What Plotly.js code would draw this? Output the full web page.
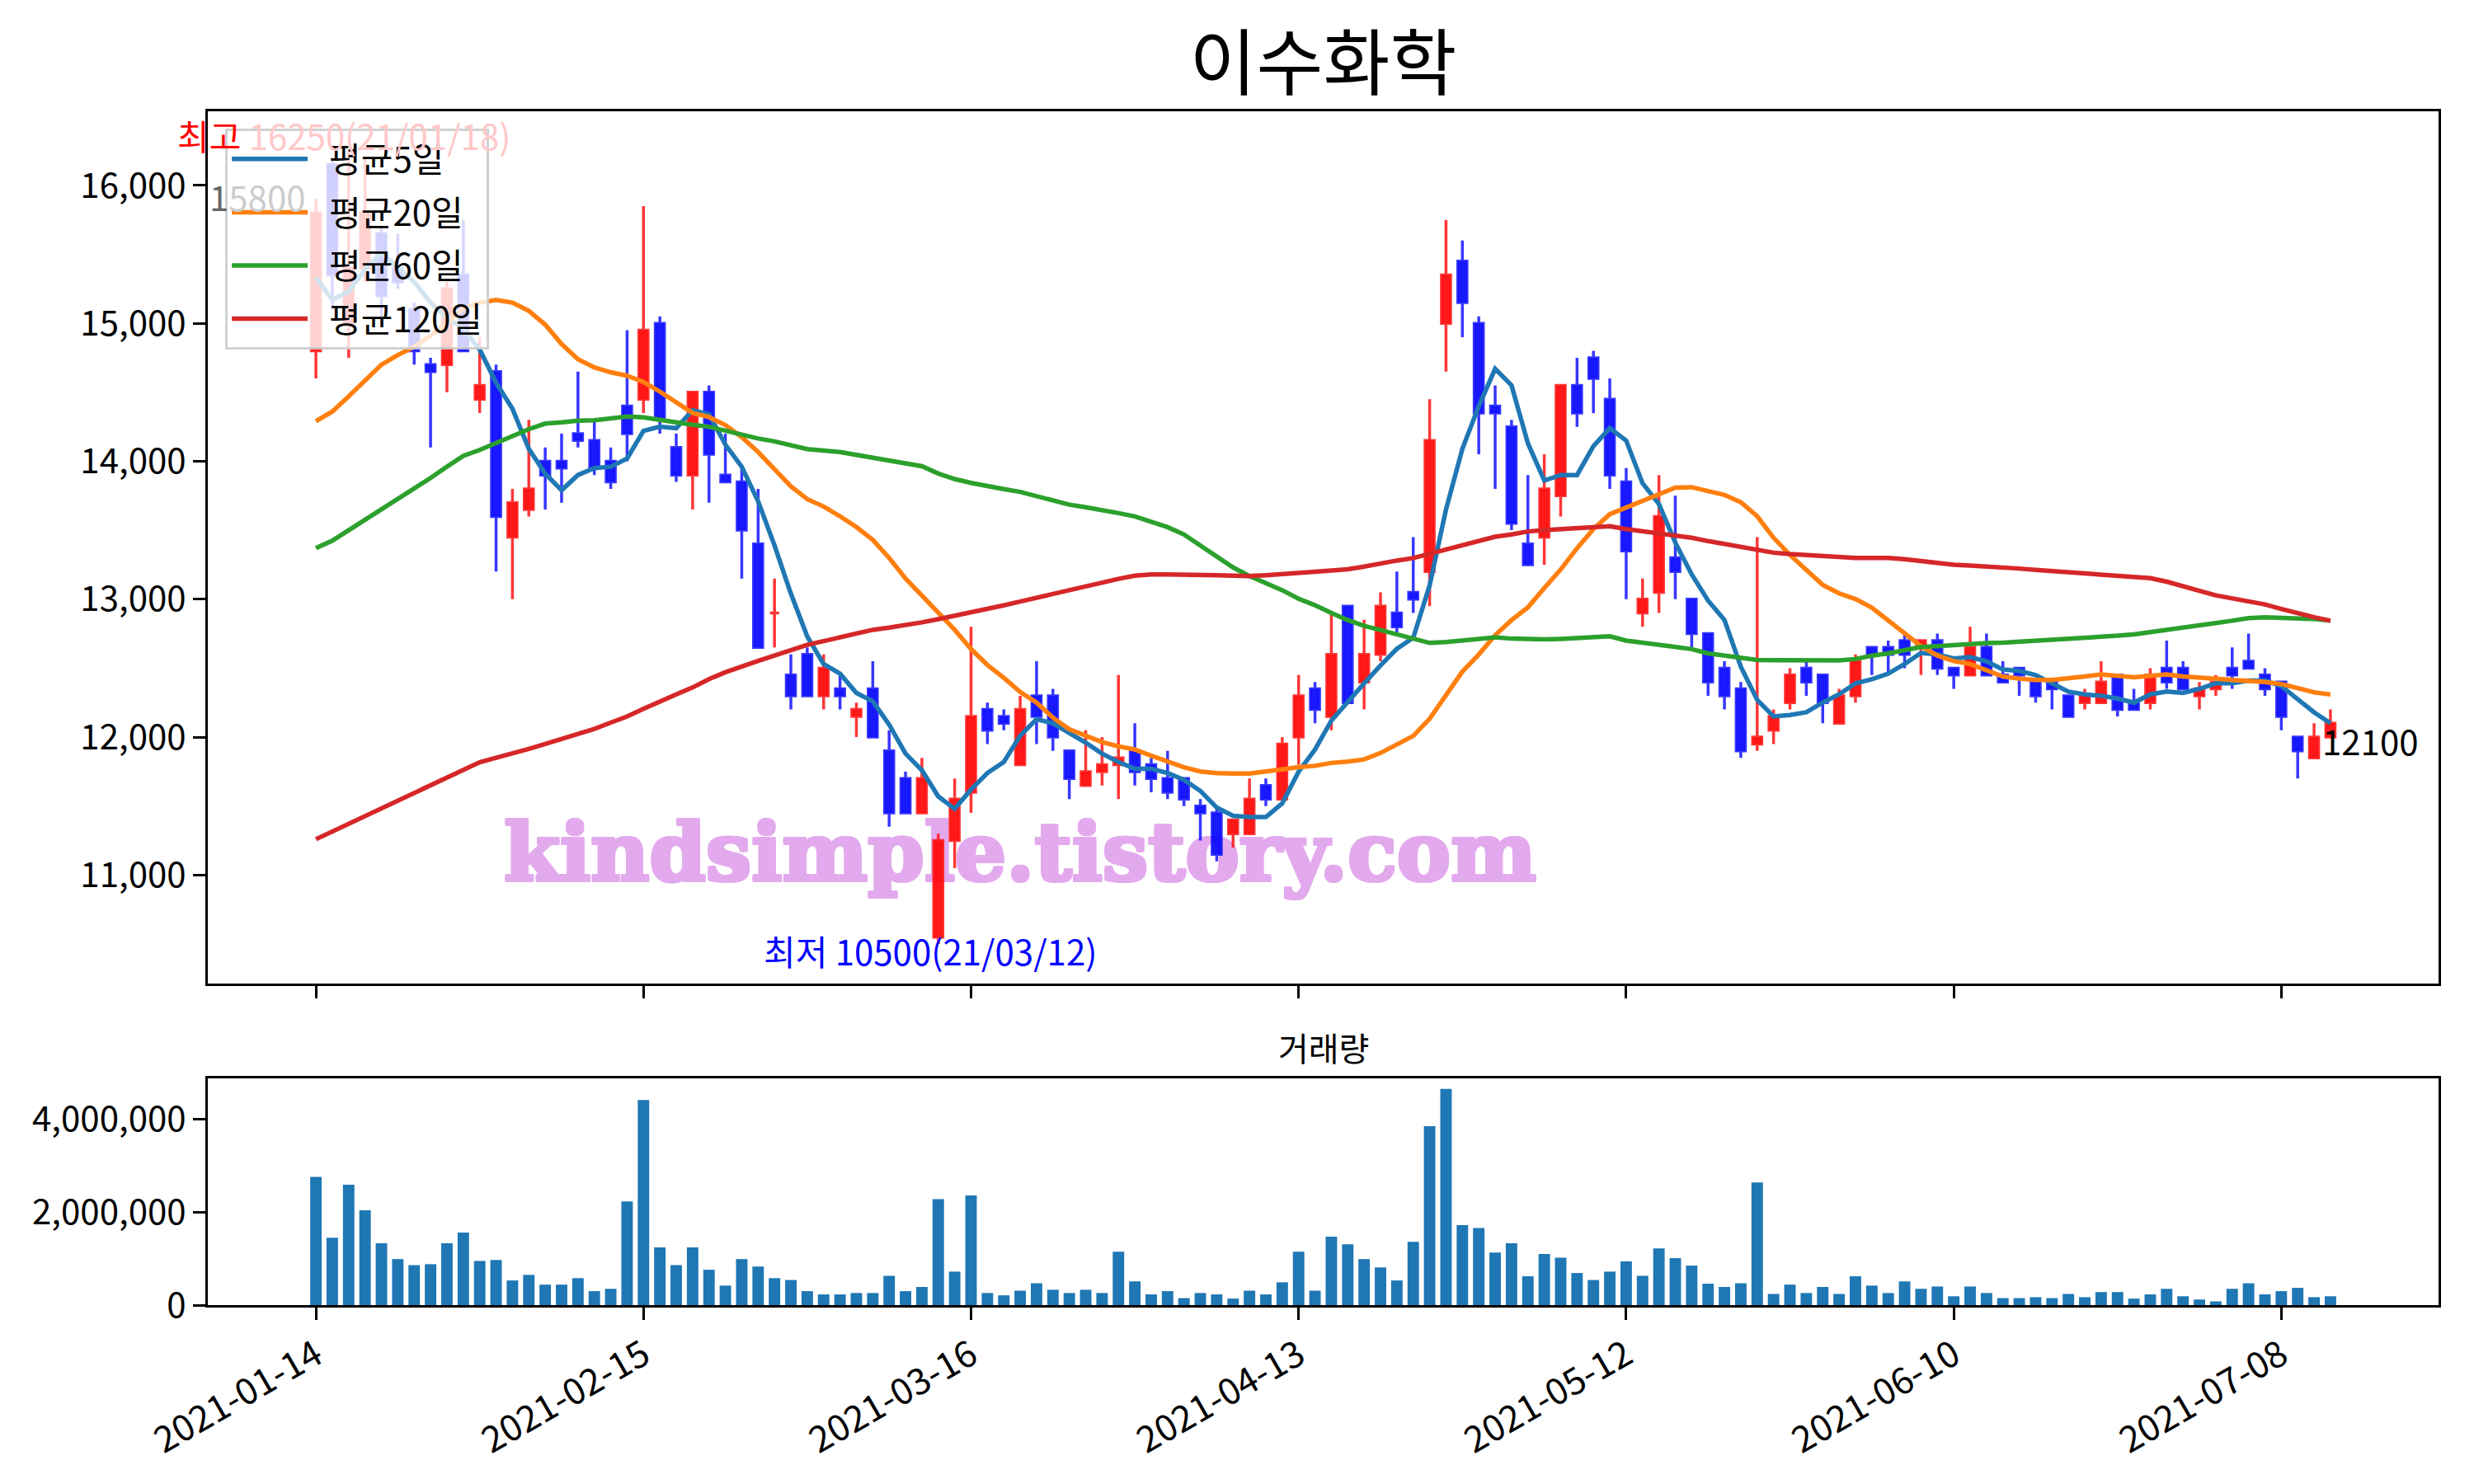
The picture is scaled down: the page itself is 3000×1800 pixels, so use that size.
<!DOCTYPE html>
<html>
<head>
<meta charset="utf-8">
<script src="https://cdn.plot.ly/plotly-3.0.1.min.js"></script>
<style>html,body{margin:0;padding:0;background:#fff;}</style>
</head>
<body>
<div id="chart" style="width:3000px;height:1800px;"></div>
<script>
const dates = ["2021-01-14","2021-01-15","2021-01-18","2021-01-19","2021-01-20","2021-01-21","2021-01-22","2021-01-25","2021-01-26","2021-01-27","2021-01-28","2021-01-29","2021-02-01","2021-02-02","2021-02-03","2021-02-04","2021-02-05","2021-02-08","2021-02-09","2021-02-10","2021-02-15","2021-02-16","2021-02-17","2021-02-18","2021-02-19","2021-02-22","2021-02-23","2021-02-24","2021-02-25","2021-02-26","2021-03-02","2021-03-03","2021-03-04","2021-03-05","2021-03-08","2021-03-09","2021-03-10","2021-03-11","2021-03-12","2021-03-15","2021-03-16","2021-03-17","2021-03-18","2021-03-19","2021-03-22","2021-03-23","2021-03-24","2021-03-25","2021-03-26","2021-03-29","2021-03-30","2021-03-31","2021-04-01","2021-04-02","2021-04-05","2021-04-06","2021-04-07","2021-04-08","2021-04-09","2021-04-12","2021-04-13","2021-04-14","2021-04-15","2021-04-16","2021-04-19","2021-04-20","2021-04-21","2021-04-22","2021-04-23","2021-04-26","2021-04-27","2021-04-28","2021-04-29","2021-04-30","2021-05-03","2021-05-04","2021-05-06","2021-05-07","2021-05-10","2021-05-11","2021-05-12","2021-05-13","2021-05-14","2021-05-17","2021-05-18","2021-05-20","2021-05-21","2021-05-24","2021-05-25","2021-05-26","2021-05-27","2021-05-28","2021-05-31","2021-06-01","2021-06-02","2021-06-03","2021-06-04","2021-06-07","2021-06-08","2021-06-09","2021-06-10","2021-06-11","2021-06-14","2021-06-15","2021-06-16","2021-06-17","2021-06-18","2021-06-21","2021-06-22","2021-06-23","2021-06-24","2021-06-25","2021-06-28","2021-06-29","2021-06-30","2021-07-01","2021-07-02","2021-07-05","2021-07-06","2021-07-07","2021-07-08","2021-07-09","2021-07-12","2021-07-13"];

const openP = [14800,16150,15000,15400,15650,15400,15100,14700,14700,15350,14450,14650,13450,13650,14000,14000,14200,14150,14000,14400,14450,15000,14100,13900,14500,13900,13850,13400,12900,12450,12600,12300,12350,12150,12350,11900,11700,11450,10550,11250,11600,12200,12150,11800,12300,12300,11900,11650,11750,11800,11900,11800,11700,11700,11500,11450,11300,11300,11650,11550,12000,12350,12150,12950,12400,12600,12900,13050,13200,15000,15450,15000,14400,14250,13400,13450,13750,14550,14750,14450,13850,12900,13050,13300,13000,12750,12500,12350,11950,12050,12250,12500,12450,12100,12300,12650,12650,12700,12650,12700,12500,12450,12650,12450,12500,12400,12400,12300,12250,12250,12450,12250,12250,12500,12500,12300,12350,12500,12550,12450,12400,12000,11850,12000];
const highP = [15900,16200,16250,16200,15700,15650,15150,14750,15300,15750,14900,14700,13800,14300,14100,14200,14650,14300,14100,14950,15850,15050,14200,14500,14550,14200,13950,13800,13150,12600,12650,12600,12450,12250,12550,12050,11750,11850,11300,11700,12800,12250,12200,12300,12550,12350,11900,12050,12000,12450,12100,11850,11900,11700,11550,11500,11400,11700,11700,12000,12450,12400,12900,12950,12850,13050,13200,13450,14450,15750,15600,15050,14550,14300,13900,14050,14550,14750,14800,14600,13950,13150,13900,13750,13000,12750,12550,12400,13450,12200,12500,12550,12450,12350,12600,12650,12700,12750,12700,12750,12500,12800,12750,12550,12500,12400,12400,12300,12350,12550,12450,12350,12500,12700,12550,12400,12450,12650,12750,12500,12400,12000,12100,12200];
const lowP = [14600,15100,14750,15300,15000,15250,14700,14100,14500,14800,14350,13200,13000,13600,13650,13700,14100,13900,13800,14000,14350,14200,13850,13650,13700,13850,13150,12650,12650,12200,12300,12200,12200,12000,12000,11350,11450,11450,10500,11050,11450,11950,12050,11800,11950,11900,11550,11650,11650,11550,11650,11600,11550,11500,11250,11100,11200,11300,11500,11550,11800,12100,12050,12250,12200,12550,12750,12900,12950,14650,14900,14050,13800,13500,13250,13250,13600,14250,14350,13800,13000,12800,12900,13000,12650,12300,12200,11850,11900,11950,12200,12300,12100,12100,12250,12450,12450,12500,12450,12450,12350,12450,12450,12400,12300,12250,12200,12150,12200,12250,12150,12200,12200,12350,12350,12200,12300,12350,12500,12300,12050,11700,11850,12000];
const closeP = [15800,15350,15400,15800,15200,15300,14800,14650,15250,14800,14550,13600,13700,13800,13900,13950,14150,13950,13850,14200,14950,14300,13900,14500,14050,13850,13500,12650,12900,12300,12300,12500,12300,12200,12000,11450,11450,11700,11250,11550,12150,12050,12100,12200,12150,12000,11700,11750,11800,11850,11750,11700,11600,11550,11450,11150,11400,11550,11550,11950,12300,12200,12600,12250,12600,12950,12800,13000,14150,15350,15150,14350,14350,13550,13250,13800,14550,14350,14600,13900,13350,13000,13600,13200,12750,12400,12300,11900,12000,12150,12450,12400,12250,12300,12550,12600,12600,12600,12700,12500,12450,12650,12450,12400,12450,12300,12350,12150,12300,12400,12200,12200,12450,12400,12350,12350,12400,12450,12500,12350,12150,11900,12000,12100];

const ma5 = [15330,15170,15230,15390,15510,15410,15300,15150,15040,14960,14810,14570,14380,14090,13910,13790,13900,13950,13960,14020,14220,14250,14240,14370,14340,14120,13960,13710,13390,13040,12730,12530,12460,12320,12260,12090,11880,11760,11570,11480,11620,11740,11820,12010,12130,12100,12030,11960,11880,11820,11770,11770,11740,11690,11610,11490,11430,11420,11420,11520,11750,11910,12120,12260,12390,12520,12640,12720,13100,13650,14090,14400,14670,14550,14130,13860,13900,13900,14110,14240,14150,13840,13690,13410,13180,12990,12850,12510,12270,12150,12160,12180,12250,12310,12390,12420,12460,12530,12610,12600,12570,12580,12550,12490,12480,12450,12390,12330,12310,12300,12280,12250,12310,12330,12320,12350,12390,12390,12410,12410,12370,12270,12180,12100];
const ma20 = [14290,14360,14470,14590,14700,14770,14830,14910,15000,15110,15150,15170,15150,15090,14990,14850,14740,14680,14645,14620,14575,14505,14425,14350,14320,14262,14175,14067,13942,13818,13725,13672,13601,13523,13430,13299,13150,13026,12902,12778,12638,12523,12430,12327,12250,12141,12057,12007,11964,11933,11910,11865,11823,11782,11751,11739,11736,11736,11751,11770,11782,11792,11813,11823,11838,11885,11947,12009,12133,12304,12475,12599,12739,12848,12941,13081,13215,13370,13508,13616,13663,13709,13756,13809,13812,13787,13756,13703,13601,13445,13321,13212,13104,13042,13001,12939,12846,12753,12660,12591,12551,12530,12485,12440,12424,12414,12414,12424,12440,12454,12444,12434,12444,12454,12440,12428,12424,12414,12408,12400,12385,12351,12325,12309];
const ma60 = [13370,13424,13500,13576,13645,13727,13797,13879,13961,14039,14082,14136,14182,14233,14273,14282,14294,14297,14312,14324,14318,14303,14282,14264,14250,14222,14191,14165,14144,14115,14088,14078,14067,14046,14026,14008,13989,13964,13911,13871,13843,13818,13798,13778,13747,13716,13685,13666,13647,13624,13600,13562,13522,13469,13391,13304,13230,13168,13118,13065,13003,12956,12900,12848,12807,12776,12745,12708,12683,12689,12699,12714,12723,12714,12708,12708,12712,12718,12731,12731,12700,12684,12675,12653,12638,12607,12591,12576,12560,12558,12556,12555,12555,12556,12566,12591,12607,12629,12653,12660,12669,12678,12682,12685,12691,12697,12704,12711,12718,12725,12735,12745,12760,12776,12793,12810,12827,12844,12863,12869,12867,12863,12856,12844];
const ma120 = [11260,11315,11370,11425,11480,11535,11590,11645,11700,11760,11818,11850,11880,11915,11950,11985,12020,12060,12105,12150,12205,12260,12310,12360,12420,12470,12514,12553,12591,12630,12669,12696,12722,12750,12778,12794,12809,12832,12855,12878,12902,12928,12955,12983,13011,13037,13063,13091,13119,13147,13170,13180,13180,13180,13177,13174,13171,13168,13174,13180,13190,13199,13208,13217,13236,13261,13280,13298,13329,13360,13397,13422,13453,13469,13491,13500,13509,13515,13523,13529,13508,13492,13483,13467,13445,13421,13399,13377,13358,13337,13327,13318,13312,13302,13299,13299,13299,13290,13275,13259,13250,13243,13238,13232,13222,13212,13204,13196,13188,13180,13173,13166,13152,13127,13097,13061,13028,13008,12988,12962,12929,12895,12869,12844];

const volume = [2760000,1450000,2590000,2040000,1330000,990000,860000,880000,1330000,1560000,950000,970000,530000,650000,440000,440000,580000,300000,350000,2230000,4410000,1240000,860000,1240000,760000,420000,990000,830000,580000,540000,300000,230000,230000,260000,260000,630000,300000,390000,2280000,720000,2360000,260000,210000,310000,470000,330000,260000,330000,260000,1150000,510000,230000,300000,150000,260000,230000,140000,310000,230000,490000,1150000,310000,1470000,1310000,990000,810000,530000,1360000,3850000,4650000,1720000,1660000,1130000,1330000,620000,1100000,1020000,690000,540000,720000,940000,630000,1220000,1010000,850000,460000,390000,470000,2640000,240000,440000,260000,390000,240000,620000,420000,260000,510000,350000,400000,190000,400000,260000,150000,150000,170000,150000,240000,170000,280000,280000,140000,230000,350000,190000,120000,80000,350000,470000,230000,300000,370000,170000,190000];

const titleText = "이수화학";
const volumeTitle = "거래량";
const maNames = ["평균5일", "평균20일", "평균60일", "평균120일"];
const highLabel = "최고 16250(21/01/18)";
const lowLabel = "최저 10500(21/03/12)";
const firstCloseLabel = "15800";
const lastCloseLabel = "12100";
const watermark = "kindsimple.tistory.com";
const watermarkDate = "2021-03-19";
const watermarkLevel = 11109;
const priceTicks = [11000, 12000, 13000, 14000, 15000, 16000];
const volumeTicks = [0, 2000000, 4000000];

const tickDates = dates.filter((d, i) => i % 20 === 0);
const FONT = "Noto Sans CJK KR, Noto Sans, sans-serif";
const maColors = ["#1f77b4", "#ff7f0e", "#2ca02c", "#d62728"];
const maSeries = [ma5, ma20, ma60, ma120];
const WM = "rgb(227,169,237)";

const traces = [];
// watermark sits on the base price subplot, underneath the candles
traces.push({
  type: "scatter", mode: "text",
  x: [watermarkDate], y: [watermarkLevel],
  text: ["<b>" + watermark + "</b>"],
  textposition: "middle center",
  textfont: {
    family: "DejaVu Serif, serif", size: 98, color: WM,
    shadow: "2px 0 0 " + WM + ", -2px 0 0 " + WM + ", 0 2px 0 " + WM + ", 0 -2px 0 " + WM + ", 2px 2px 0 " + WM + ", -2px -2px 0 " + WM + ", 2px -2px 0 " + WM + ", -2px 2px 0 " + WM
  },
  xaxis: "x2", yaxis: "y",
  showlegend: false, hoverinfo: "skip", cliponaxis: false
});
traces.push({
  type: "candlestick",
  x: dates, open: openP, high: highP, low: lowP, close: closeP,
  xaxis: "x2", yaxis: "y3",
  increasing: { line: { color: "rgba(255,20,20,0.85)", width: 3.5 }, fillcolor: "rgba(255,0,0,0.9)" },
  decreasing: { line: { color: "rgba(20,20,255,0.85)", width: 3.5 }, fillcolor: "rgba(0,0,255,0.9)" },
  whiskerwidth: 0,
  showlegend: false,
  hoverinfo: "skip"
});
maSeries.forEach((s, k) => {
  traces.push({
    type: "scatter", mode: "lines", x: dates, y: s,
    xaxis: "x2", yaxis: "y3",
    name: "\u2002" + maNames[k], legendgroup: "g" + k,
    line: { color: maColors[k], width: 5.5 }
  });
});
traces.push({
  type: "bar", x: dates, y: volume, xaxis: "x", yaxis: "y2",
  marker: { color: "#1f77b4", line: { width: 0 } },
  showlegend: false
});

const axisCommon = {
  type: "category",
  categoryorder: "array",
  categoryarray: dates,
  range: [-6.6, 129.6],
  tickmode: "array",
  tickvals: tickDates,
  ticktext: tickDates,
  ticks: "outside", ticklen: 15, tickwidth: 3, tickcolor: "#000",
  showline: true, linewidth: 3, linecolor: "#000", mirror: true,
  showgrid: false, zeroline: false,
  rangeslider: { visible: false },
  fixedrange: true
};
const priceRange = [10213, 16537];

const layout = {
  width: 3000, height: 1800,
  paper_bgcolor: "#fff", plot_bgcolor: "#fff",
  margin: { l: 252, r: 43, t: 135, b: 217, pad: 0 },
  font: { family: FONT, size: 40, color: "#000" },
  title: {
    text: titleText,
    font: { family: FONT, size: 88, color: "#000" },
    x: 0.5, xref: "paper", xanchor: "center",
    y: 0.957, yref: "container", yanchor: "middle"
  },
  showlegend: true,
  legend: {
    x: 0.0078, y: 0.9855, xanchor: "left", yanchor: "top",
    bgcolor: "rgba(255,255,255,0.8)",
    bordercolor: "rgba(204,204,204,0.9)", borderwidth: 3,
    font: { family: FONT, size: 42, color: "#000" },
    itemwidth: 92, tracegroupgap: 7, traceorder: "grouped"
  },
  boxgap: 0.2,
  bargap: 0.3,
  xaxis: Object.assign({}, axisCommon, {
    anchor: "y2", domain: [0, 1], tickangle: -30,
    tickfont: { family: FONT, size: 44, color: "#000" }
  }),
  xaxis2: Object.assign({}, axisCommon, {
    anchor: "y", domain: [0, 1], showticklabels: false
  }),
  yaxis: {
    domain: [0.2693, 1], range: priceRange,
    tickmode: "array", tickvals: priceTicks, tickformat: ",d",
    ticks: "outside", ticklen: 15, tickwidth: 3, tickcolor: "#000",
    showline: true, linewidth: 3, linecolor: "#000", mirror: true,
    showgrid: false, zeroline: false, fixedrange: true,
    tickfont: { family: FONT, size: 42, color: "#000" }
  },
  yaxis3: {
    overlaying: "y", anchor: "x2", range: priceRange,
    visible: false, showgrid: false, zeroline: false, fixedrange: true
  },
  yaxis2: {
    domain: [0, 0.1899], range: [0, 4877000],
    tickmode: "array", tickvals: volumeTicks, tickformat: ",d",
    ticks: "outside", ticklen: 15, tickwidth: 3, tickcolor: "#000",
    showline: true, linewidth: 3, linecolor: "#000", mirror: true,
    showgrid: false, zeroline: false, fixedrange: true,
    tickfont: { family: FONT, size: 42, color: "#000" }
  },
  annotations: [
    {
      xref: "x2", yref: "y", x: 1.7, y: 16364, showarrow: false,
      xanchor: "center", yanchor: "middle",
      text: highLabel.slice(0, 2) + '<span style="color:#ffc8c8">' + highLabel.slice(2) + '</span>',
      font: { family: FONT, size: 42, color: "#ff0000" }
    },
    {
      xref: "x2", yref: "y", x: -0.5, y: 15925, showarrow: false,
      xanchor: "right", yanchor: "middle",
      text: '<span style="color:#666">' + firstCloseLabel.slice(0, 1) + '</span>' + firstCloseLabel.slice(1),
      font: { family: FONT, size: 42, color: "#cccccc" }
    },
    {
      xref: "x2", yref: "y", x: 37.5, y: 10456, showarrow: false,
      xanchor: "center", yanchor: "middle",
      text: lowLabel,
      font: { family: FONT, size: 42, color: "#0000ff" }
    },
    {
      xref: "x2", yref: "y", x: 122.4, y: 11982, showarrow: false,
      xanchor: "left", yanchor: "middle",
      text: lastCloseLabel,
      font: { family: FONT, size: 42, color: "#000" }
    },
    {
      xref: "paper", yref: "paper", x: 0.5, y: 0.216, showarrow: false,
      xanchor: "center", yanchor: "middle",
      text: volumeTitle,
      font: { family: FONT, size: 40, color: "#000" }
    }
  ]
};

Plotly.newPlot("chart", traces, layout, { displayModeBar: false, staticPlot: true });
</script>
</body>
</html>
